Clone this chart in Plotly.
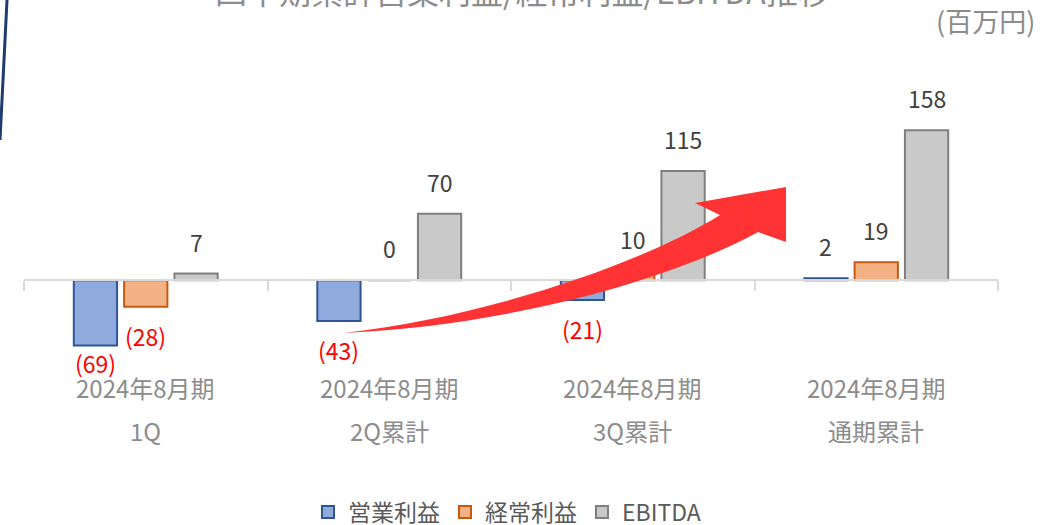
import plotly.graph_objects as go

# 期間ラベル (2行)
periods = ["2024年8月期", "2024年8月期", "2024年8月期", "2024年8月期"]
stages = ["1Q", "2Q累計", "3Q累計", "通期累計"]
categories = ["1Q", "2Q", "3Q", "FY"]

# 百万円
operating = [-69, -43, -21, 2]
ordinary = [-28, 0, 10, 19]
ebitda = [7, 70, 115, 158]

y_min, y_max = -100, 230
FONT = "Noto Sans CJK JP"
GREY = "#8c8c8c"

# plot area in pixels (used for placing decorations)
L, R, T, B = 24, 998, 62, 375
BARGAP, GROUPGAP = 0.38, 0.14


def px(x, y):
    return (x - L) / (R - L), (B - y) / (B - T)


fig = go.Figure()
series = [
    ("営業利益", operating, "#8faadc", "#2f5597"),
    ("経常利益", ordinary, "#f4b183", "#c55a11"),
    ("EBITDA", ebitda, "#c9c9c9", "#7f7f7f"),
]
for name, vals, fill, edge in series:
    fig.add_trace(go.Bar(x=categories, y=vals, name=name,
                         marker=dict(color=fill, line=dict(color=edge, width=2))))

annotations = []

# data labels: above positives, red parentheses below negatives
cat_w = (R - L) / len(categories)
slot = cat_w * (1 - BARGAP) / len(series)
scale = (B - T) / (y_max - y_min)
floor = -87  # keep the lowest label clear of the category text
for i, (name, vals, fill, edge) in enumerate(series):
    dx = (i - (len(series) - 1) / 2) * slot
    for c, v in zip(categories, vals):
        if v >= 0:
            annotations.append(dict(x=c, y=v, xref="x", yref="y", text=str(v),
                                    xshift=dx, yshift=32, showarrow=False, yanchor="middle",
                                    font=dict(family=FONT, size=23, color="#404040")))
        else:
            yy, ys = v, -29
            if v - 29 / scale < floor:
                yy, ys = floor, 0
            annotations.append(dict(x=c, y=yy, xref="x", yref="y", text=f"({-v})",
                                    xshift=dx, yshift=ys, showarrow=False, yanchor="middle",
                                    font=dict(family=FONT, size=23, color="#ff0000")))

# category labels, two lines
for c, p, s in zip(categories, periods, stages):
    annotations.append(dict(x=c, y=px(0, 387)[1], xref="x", yref="paper", text=p,
                            showarrow=False, yanchor="middle",
                            font=dict(family=FONT, size=24, color=GREY)))
    annotations.append(dict(x=c, y=px(0, 430)[1], xref="x", yref="paper", text=s,
                            showarrow=False, yanchor="middle",
                            font=dict(family=FONT, size=24, color=GREY)))

# title (cut off at top in the original slide) and unit
annotations.append(dict(x=px(522, 0)[0], y=px(0, 15)[1], xref="paper", yref="paper",
                        text="四半期累計営業利益/経常利益/EBITDA推移", showarrow=False,
                        yanchor="bottom", font=dict(family=FONT, size=32, color=GREY)))
annotations.append(dict(x=px(1037, 0)[0], y=px(0, 21)[1], xref="paper", yref="paper",
                        text="(百万円)", showarrow=False, xanchor="right", yanchor="middle",
                        font=dict(family=FONT, size=27, color=GREY)))

# red growth arrow
pts = {
    "tail": (343, 333), "c1": (480, 318), "c2": (640, 265), "un": (720, 215),
    "lb": (695, 203), "tip": (786, 187), "br": (786, 242), "ln": (758, 232),
    "c3": (680, 275), "c4": (520, 325),
}
p = {k: px(*v) for k, v in pts.items()}
path = (f"M {p['tail'][0]},{p['tail'][1]} "
        f"C {p['c1'][0]},{p['c1'][1]} {p['c2'][0]},{p['c2'][1]} {p['un'][0]},{p['un'][1]} "
        f"L {p['lb'][0]},{p['lb'][1]} L {p['tip'][0]},{p['tip'][1]} "
        f"L {p['br'][0]},{p['br'][1]} L {p['ln'][0]},{p['ln'][1]} "
        f"C {p['c3'][0]},{p['c3'][1]} {p['c4'][0]},{p['c4'][1]} {p['tail'][0]},{p['tail'][1]} Z")

a0, a1 = px(7, 0), px(0, 140)
shapes = [
    dict(type="path", xref="paper", yref="paper", path=path,
         fillcolor="#ff3333", line=dict(width=0), layer="above"),
    dict(type="line", xref="paper", yref="paper", x0=a0[0], y0=a0[1], x1=a1[0], y1=a1[1],
         line=dict(color="#1f3a6e", width=3)),
]

fig.update_layout(
    width=1048, height=525,
    margin=dict(l=L, r=1048 - R, t=T, b=525 - B, autoexpand=False),
    paper_bgcolor="white", plot_bgcolor="white",
    barmode="group", bargap=BARGAP, bargroupgap=GROUPGAP,
    font=dict(family=FONT, color="#595959"),
    showlegend=True,
    legend=dict(orientation="h", x=px(507, 0)[0], xanchor="center",
                y=px(0, 512)[1], yanchor="middle", itemwidth=30,
                font=dict(family=FONT, size=23, color="#595959")),
    xaxis=dict(anchor="free", position=(0 - y_min) / (y_max - y_min),
               showline=True, linecolor="#d9d9d9", linewidth=2,
               ticks="outside", ticklen=10, tickcolor="#d9d9d9", tickwidth=2,
               tickson="boundaries", showticklabels=False, showgrid=False),
    yaxis=dict(range=[y_min, y_max], visible=False, showgrid=False, zeroline=False),
    annotations=annotations,
    shapes=shapes,
)

# drop the browser's default page margin so the figure fills the window
fig.write_html("out.html", config={"displayModeBar": False},
               post_script="document.body.style.margin = '0';")
